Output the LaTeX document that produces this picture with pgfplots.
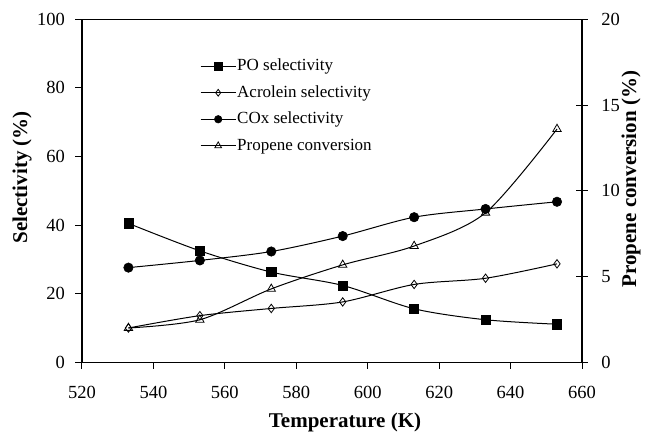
\documentclass[border=0pt]{standalone}
\usepackage{fontspec}
\setmainfont{Liberation Serif}
\usepackage{pgfplots}
\pgfplotsset{compat=1.18}

\begin{document}
\begin{tikzpicture}
\path[use as bounding box] (-82pt,-72.7pt) rectangle (566pt,362.3pt);
\begin{axis}[
  at={(0,0)}, anchor=south west,
  scale only axis, width=500pt, height=343pt,
  xmin=520, xmax=660, ymin=0, ymax=100,
  xtick={520,540,...,660}, ytick={0,20,...,100},
  xtick pos=bottom, ytick pos=left,
  tick align=outside,
  major tick length=6.5pt,
  tick style={line width=1pt, black},
  axis line style={line width=1.2pt},
  /pgf/number format/assume math mode=true,
  ticklabel style={font=\fontsize{18.5}{22}\selectfont},
  xticklabel style={yshift=-14pt},
  yticklabel style={xshift=-7pt},
  xlabel={\textbf{Temperature (K)}},
  ylabel={\textbf{Selectivity (\%)}},
  label style={font=\fontsize{21}{25}\selectfont},
  xlabel style={at={(axis description cs:0.526,0)}, anchor=center, yshift=-60pt},
  ylabel style={at={(axis description cs:-0.12,0.539)}, anchor=center, rotate=0},
  legend style={draw=none, fill=none, at={(axis description cs:0.23,0.895)}, anchor=north west,
    font=\fontsize{17}{20}\selectfont, row sep=9pt,
    nodes={inner sep=1pt, text height=12pt, text depth=3.5pt}},
  legend cell align=left,
  legend image code/.code={\draw[mark repeat=2,mark phase=2,#1,every mark/.append style={scale=0.8}] plot coordinates {(0pt,0pt) (17.5pt,0pt) (35pt,0pt)};},
]
\addplot[black, line width=1pt, smooth, tension=0.5, mark=square*, mark size=4.6pt, mark options={solid, line width=0.6pt}]
  coordinates {(533,40.5) (553,32.5) (573,26.3) (593,22.4) (613,15.6) (633,12.4) (653,11.1)};
\addlegendentry{PO selectivity}
\addplot[black, line width=1pt, smooth, tension=0.5, mark=diamond, mark size=4.2pt, mark options={solid, fill=white, line width=0.8pt}]
  coordinates {(533,10.0) (553,13.6) (573,15.7) (593,17.6) (613,22.7) (633,24.5) (653,28.7)};
\addlegendentry{Acrolein selectivity}
\addplot[black, line width=1pt, smooth, tension=0.5, mark=*, mark size=4.7pt, mark options={solid, line width=0.6pt}]
  coordinates {(533,27.6) (553,29.7) (573,32.3) (593,36.8) (613,42.3) (633,44.7) (653,46.8)};
\addlegendentry{COx selectivity}
\addlegendimage{black, line width=1pt, mark=triangle, mark size=4.8pt, mark options={solid, fill=white, line width=0.8pt}}
\addlegendentry{Propene conversion}
\end{axis}
\begin{axis}[
  at={(0,0)}, anchor=south west,
  scale only axis, width=500pt, height=343pt,
  xmin=520, xmax=660, ymin=0, ymax=20,
  axis x line=none, axis y line*=right,
  ytick={0,5,...,20},
  ytick align=center,
  major tick length=11.7pt,
  tick style={line width=1pt, black},
  axis line style={line width=1.2pt, -},
  /pgf/number format/assume math mode=true,
  ticklabel style={font=\fontsize{18.5}{22}\selectfont},
  yticklabel style={xshift=10pt},
  ylabel={\textbf{Propene conversion (\%)}},
  label style={font=\fontsize{21}{25}\selectfont},
  ylabel style={at={(axis description cs:1.098,0.534)}, anchor=center, rotate=0},
]
\addplot[black, line width=1pt, smooth, tension=0.5, mark=triangle, mark size=4.8pt, mark options={solid, fill=white, line width=0.8pt}]
  coordinates {(533,2.0) (553,2.48) (573,4.28) (593,5.68) (613,6.78) (633,8.72) (653,13.6)};
\end{axis}
\end{tikzpicture}
\end{document}
